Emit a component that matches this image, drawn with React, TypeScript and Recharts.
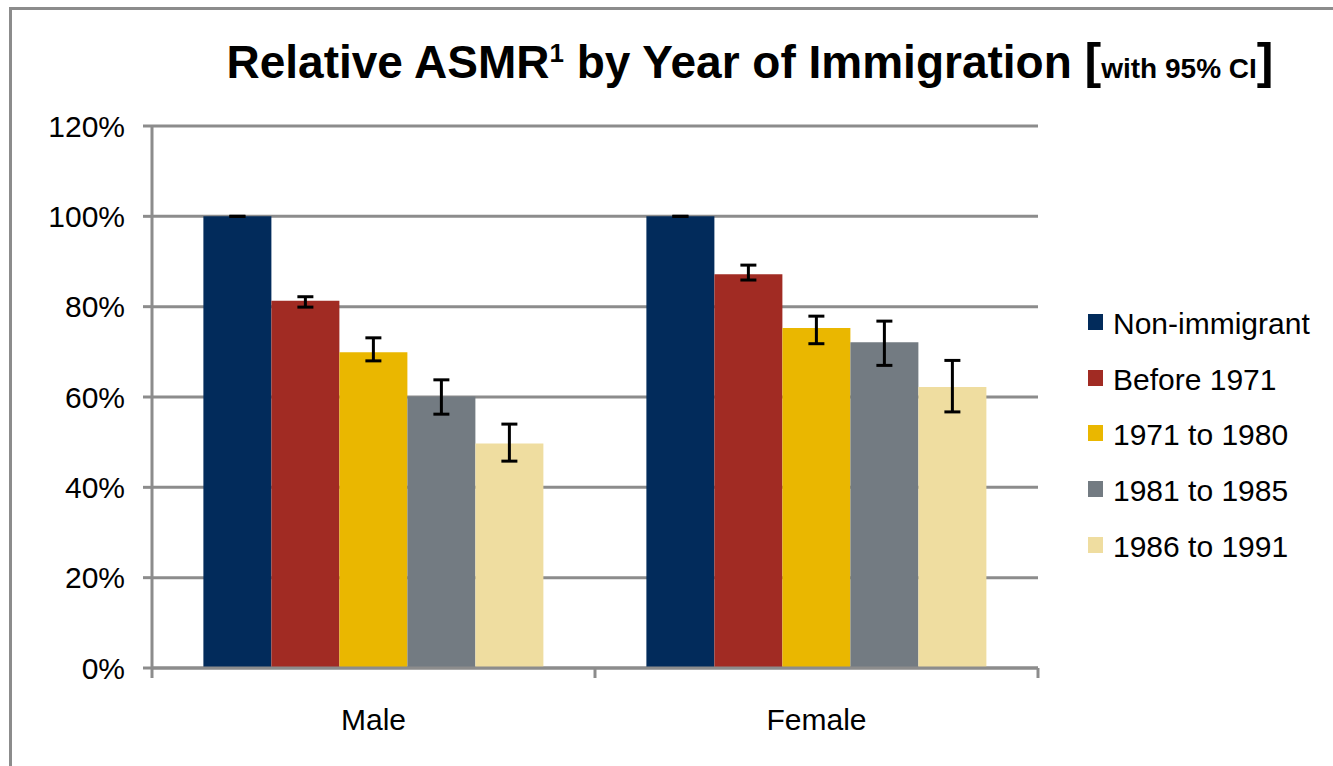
import React from 'react';
import { BarChart, Bar, XAxis, YAxis, CartesianGrid, ErrorBar } from 'recharts';

const categories = ['Male', 'Female'];
const seriesKeys = ['nonImm', 'b1971', 'y7180', 'y8185', 'y8691'];
const seriesNames = ['Non-immigrant', 'Before 1971', '1971 to 1980', '1981 to 1985', '1986 to 1991'];
const seriesColors = ['#022B5B', '#A12B23', '#EAB700', '#737B82', '#EFDDA0'];

// relative ASMR (%) per category [Male, Female]
const nonImmigrant = [100, 100];
const before1971 = [81.3, 87.2];
const from1971to1980 = [69.9, 75.3];
const from1981to1985 = [60.1, 72.1];
const from1986to1991 = [49.7, 62.2];

// 95% CI lower / upper bounds
const nonImmigrantCI = [[100, 100], [100, 100]];
const before1971CI = [[79.9, 82.2], [85.9, 89.2]];
const from1971to1980CI = [[68.0, 73.1], [71.8, 77.9]];
const from1981to1985CI = [[56.2, 63.8], [67.0, 76.8]];
const from1986to1991CI = [[45.8, 54.0], [56.7, 68.1]];

const yTicks = [0, 20, 40, 60, 80, 100, 120];

const seriesValues = [nonImmigrant, before1971, from1971to1980, from1981to1985, from1986to1991];
const seriesCIs = [nonImmigrantCI, before1971CI, from1971to1980CI, from1981to1985CI, from1986to1991CI];

const data = categories.map((cat, i) => {
  const row: Record<string, any> = { cat };
  seriesKeys.forEach((k, s) => {
    const v = seriesValues[s][i];
    const [lo, hi] = seriesCIs[s][i];
    row[k] = v;
    row[k + 'Err'] = [+(v - lo).toFixed(2), +(hi - v).toFixed(2)];
  });
  return row;
});

const FONT = '"Liberation Sans", Arial, Helvetica, sans-serif';
const GRID = '#8C8C8C';

const XTick = (props: any) => {
  const { x, y, payload, index } = props;
  const half = payload && payload.offset ? payload.offset : 221.5;
  return (
    <g>
      <line x1={x - half} x2={x - half} y1={y} y2={y + 10} stroke={GRID} strokeWidth={3} />
      {index === categories.length - 1 && (
        <line x1={x + half} x2={x + half} y1={y} y2={y + 10} stroke={GRID} strokeWidth={3} />
      )}
      <text x={x} y={y + 62} textAnchor="middle" fontSize={30} fontFamily={FONT} fill="#000">
        {payload.value}
      </text>
    </g>
  );
};

const LegendBox = () => (
  <div style={{ position: 'absolute', left: 1088, top: 294, fontFamily: FONT, fontSize: 30, color: '#000' }}>
    {seriesNames.map((n, i) => (
      <div key={n} style={{ display: 'flex', alignItems: 'center', height: 55.8 }}>
        <div style={{ width: 15, height: 16, background: seriesColors[i], marginRight: 10 }} />
        <span style={{ whiteSpace: 'nowrap', lineHeight: '30px', position: 'relative', top: 2 }}>{n}</span>
      </div>
    ))}
  </div>
);

export default function App() {
  return (
    <div style={{ position: 'absolute', left: 0, top: 0, width: 1333, height: 766, background: '#fff', overflow: 'hidden' }}>
      <div style={{ position: 'absolute', left: 9, top: 7, width: 1400, height: 800, borderTop: `3px solid ${GRID}`, borderLeft: `3px solid ${GRID}` }} />
      <svg width={1333} height={110} style={{ position: 'absolute', left: 0, top: 0 }}>
        <text x={750} y={78} textAnchor="middle" fontFamily={FONT} fontWeight="bold" fontSize={46} fill="#000" style={{ whiteSpace: 'pre' }}>
          <tspan>Relative ASMR</tspan>
          <tspan fontSize={26} dy={-16}>1</tspan>
          <tspan dy={16}> by Year of Immigration </tspan>
          <tspan fontSize={50}>[</tspan>
          <tspan fontSize={28}>with 95% CI</tspan>
          <tspan fontSize={50}>]</tspan>
        </text>
      </svg>
      <div style={{ position: 'absolute', left: 0, top: 0 }}>
        <BarChart
          width={1333}
          height={766}
          data={data}
          margin={{ top: 126, right: 295, bottom: 0, left: 0 }}
          barCategoryGap="11.6%"
          barGap={0}
        >
          <CartesianGrid vertical={false} stroke={GRID} strokeWidth={3} />
          <XAxis
            dataKey="cat"
            height={98}
            axisLine={{ stroke: GRID, strokeWidth: 3 }}
            tickLine={false}
            tickSize={0}
            tickMargin={0}
            tick={<XTick />}
            interval={0}
          />
          <YAxis
            width={152}
            domain={[0, 120]}
            ticks={yTicks}
            tickFormatter={(v: number) => `${v}%`}
            axisLine={{ stroke: GRID, strokeWidth: 3 }}
            tickLine={{ stroke: GRID, strokeWidth: 3 }}
            tickSize={9}
            tickMargin={18}
            tick={{ fontSize: 30, fill: '#000', fontFamily: FONT }}
            interval={0}
          />
          {seriesKeys.map((k, i) => (
            <Bar key={k} dataKey={k} name={seriesNames[i]} fill={seriesColors[i]} isAnimationActive={false}>
              <ErrorBar dataKey={k + 'Err'} width={8} strokeWidth={3} stroke="#000" direction="y" />
            </Bar>
          ))}
        </BarChart>
      </div>
      <LegendBox />
    </div>
  );
}
